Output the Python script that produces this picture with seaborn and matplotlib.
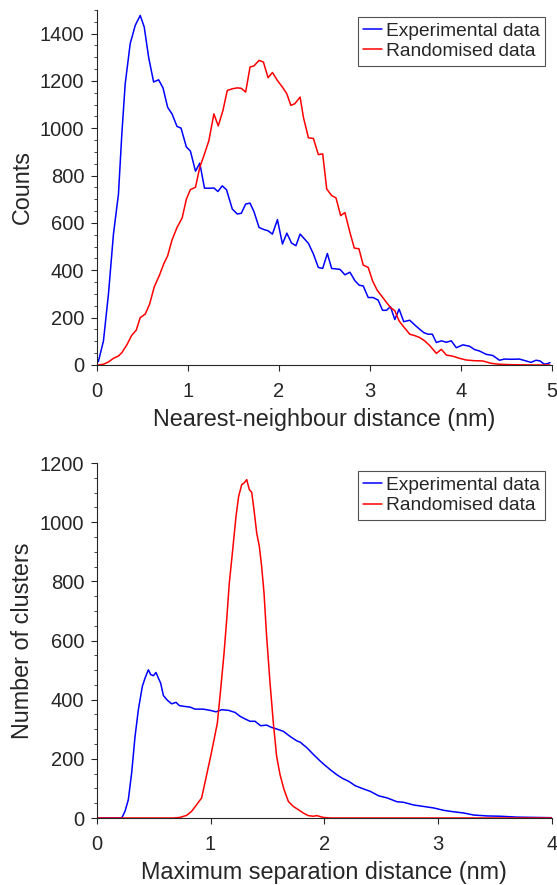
import numpy as np
import pandas as pd
import seaborn as sns
import matplotlib.pyplot as plt
from matplotlib.ticker import AutoMinorLocator, MultipleLocator

### values

# top panel: nearest-neighbour distance histogram
nn_exp_x = [0.018, 0.074, 0.129, 0.184, 0.239, 0.276, 0.313, 0.368, 0.423, 0.478,
            0.522, 0.570, 0.625, 0.680, 0.728, 0.779, 0.827, 0.882, 0.926, 0.985,
            1.029, 1.085, 1.132, 1.184, 1.25, 1.287, 1.331, 1.379, 1.426, 1.489,
            1.544, 1.588, 1.636, 1.684, 1.728, 1.783, 1.838, 1.882, 1.930, 1.985,
            2.040, 2.088, 2.140, 2.188, 2.234, 2.325, 2.38, 2.434, 2.482, 2.533,
            2.58, 2.672, 2.726, 2.781, 2.836, 2.883, 2.927, 2.982, 3.036, 3.091,
            3.139, 3.182, 3.226, 3.274, 3.321, 3.372, 3.438, 3.493, 3.547, 3.591,
            3.639, 3.686, 3.73, 3.785, 3.84, 3.894, 3.949, 4.022, 4.095, 4.15,
            4.204, 4.277, 4.35, 4.423, 4.478, 4.551, 4.642, 4.715, 4.77, 4.825,
            4.869, 4.916, 4.953, 4.978]
nn_exp_y = [14, 101, 299, 553, 722, 976, 1188, 1358, 1435, 1477,
            1428, 1301, 1196, 1205, 1171, 1089, 1061, 1008, 1001, 921,
            904, 819, 853, 747, 747, 748, 733, 757, 740, 659,
            638, 641, 680, 684, 647, 581, 572, 567, 553, 614,
            511, 557, 515, 504, 553, 514, 469, 412, 408, 471,
            408, 404, 381, 392, 356, 337, 334, 285, 285, 274,
            231, 231, 246, 192, 236, 183, 189, 169, 151, 137,
            130, 130, 95, 102, 96, 102, 73, 85, 79, 65,
            59, 45, 40, 20, 25, 24, 25, 17, 11, 20,
            17, 3, 6, 10]

nn_rand_x = [0.018, 0.074, 0.129, 0.184, 0.239, 0.276, 0.331, 0.386, 0.434, 0.478,
             0.533, 0.581, 0.632, 0.691, 0.735, 0.779, 0.827, 0.882, 0.938, 0.985,
             1.029, 1.085, 1.132, 1.184, 1.232, 1.287, 1.335, 1.386, 1.434, 1.489,
             1.544, 1.588, 1.636, 1.684, 1.728, 1.783, 1.831, 1.882, 1.930, 1.985,
             2.040, 2.088, 2.132, 2.176, 2.234, 2.27, 2.325, 2.38, 2.434, 2.482,
             2.526, 2.58, 2.628, 2.679, 2.726, 2.781, 2.829, 2.88, 2.927, 2.982,
             3.029, 3.08, 3.128, 3.175, 3.226, 3.274, 3.321, 3.372, 3.438, 3.493,
             3.547, 3.602, 3.657, 3.73, 3.785, 3.84, 3.912, 3.985, 4.058, 4.15,
             4.24, 4.33, 4.42, 4.57, 4.8, 4.978]
nn_rand_y = [0, 3, 13, 28, 38, 52, 85, 126, 147, 200,
             215, 257, 330, 381, 426, 461, 528, 581, 621, 701,
             741, 751, 835, 892, 948, 1061, 1010, 1075, 1160, 1167,
             1171, 1169, 1153, 1259, 1264, 1287, 1280, 1214, 1236, 1202,
             1174, 1146, 1097, 1104, 1132, 1047, 960, 957, 889, 892,
             744, 716, 706, 631, 644, 560, 494, 491, 422, 412,
             356, 316, 292, 268, 243, 229, 186, 161, 130, 124,
             116, 102, 82, 49, 66, 42, 37, 28, 21, 18,
             17, 7, 3, 1, 0, 0]

# bottom panel: maximum separation distance per cluster
ms_exp_x = [0.015, 0.22, 0.249, 0.278, 0.307, 0.337, 0.366, 0.401, 0.425, 0.454,
            0.474, 0.498, 0.521, 0.542, 0.562, 0.586, 0.621, 0.659, 0.697, 0.726,
            0.776, 0.82, 0.864, 0.937, 0.996, 1.048, 1.098, 1.157, 1.215, 1.259,
            1.303, 1.347, 1.391, 1.44, 1.493, 1.537, 1.581, 1.64, 1.698, 1.757,
            1.789, 1.848, 1.906, 1.965, 2.0, 2.053, 2.111, 2.155, 2.214, 2.272,
            2.346, 2.404, 2.477, 2.551, 2.638, 2.697, 2.785, 2.873, 2.96, 3.048,
            3.136, 3.224, 3.312, 3.429, 3.546, 3.693, 3.839, 4.0]
ms_exp_y = [0, 0, 23, 62, 152, 276, 366, 445, 473, 501,
            485, 481, 492, 473, 456, 414, 398, 386, 391, 380,
            377, 375, 368, 368, 364, 359, 366, 364, 357, 344,
            335, 327, 327, 312, 314, 306, 301, 293, 276, 261,
            256, 237, 214, 192, 180, 163, 146, 135, 124, 109,
            98, 90, 75, 68, 55, 53, 44, 39, 34, 26,
            21, 17, 10, 7, 6, 3, 2, 1]

ms_rand_x = [0.015, 0.674, 0.732, 0.791, 0.835, 0.878, 0.922, 0.966, 1.001, 1.031,
             1.06, 1.089, 1.119, 1.142, 1.165, 1.195, 1.224, 1.247, 1.274, 1.294,
             1.318, 1.341, 1.362, 1.382, 1.406, 1.429, 1.449, 1.47, 1.493, 1.523,
             1.552, 1.581, 1.611, 1.646, 1.684, 1.728, 1.772, 1.815, 1.859, 1.903,
             1.933, 1.991, 2.05, 4.0]
ms_rand_y = [0, 0, 2, 9, 23, 45, 68, 146, 208, 265,
             321, 434, 558, 670, 794, 907, 1020, 1087, 1127, 1132,
             1144, 1110, 1101, 1042, 963, 918, 851, 761, 614, 456,
             321, 208, 146, 96, 56, 39, 28, 17, 8, 6,
             8, 2, 0, 0]

series_labels = ["Experimental data", "Randomised data"]
series_colors = ["#0000ff", "#ff0000"]

###~~~~~~~~~~~~~~~~~~~~~~~~~~~~~~~~~~~~~~~~~~~~~~~~~~~~~~~~~~~~~~~~~~~~~~~~~~~~
sns.set_style("ticks")
plt.rcParams['font.family'] = ['Liberation Sans', 'DejaVu Sans']
ink = "#262626"
plt.rcParams.update({
    'axes.edgecolor': ink, 'axes.labelcolor': ink, 'text.color': ink,
    'xtick.color': ink, 'ytick.color': ink,
    'xtick.direction': 'out', 'ytick.direction': 'out',
})

fig = plt.figure(figsize=(5.57, 8.85), dpi=100)
ax_top = fig.add_axes([0.1736, 0.5876, 0.8174, 0.4011])
ax_bot = fig.add_axes([0.1736, 0.0757, 0.8174, 0.4011])


def draw_panel(ax, xs, ys, xlim, ylim, xlabel, ylabel, leg_top):
    for x, y, lab, col in zip(xs, ys, series_labels, series_colors):
        df = pd.DataFrame({"x": x, "y": y})
        sns.lineplot(data=df, x="x", y="y", ax=ax, color=col, label=lab,
                     linewidth=1.1, estimator=None)
    ax.set_xlim(*xlim)
    ax.set_ylim(*ylim)
    ax.xaxis.set_major_locator(MultipleLocator(1))
    ax.yaxis.set_major_locator(MultipleLocator(200))
    ax.yaxis.set_minor_locator(AutoMinorLocator(4))
    ax.tick_params(axis='both', which='major', length=4, width=0.8, labelsize=14.5)
    ax.tick_params(axis='x', which='major', pad=8)
    ax.tick_params(axis='y', which='major', pad=5)
    ax.tick_params(axis='y', which='minor', length=2.5, width=0.6)
    for s in ['top', 'right']:
        ax.spines[s].set_visible(False)
    for s in ['left', 'bottom']:
        ax.spines[s].set_linewidth(0.8)
    ax.set_xlabel(xlabel, fontsize=16.8, labelpad=5)
    ax.set_ylabel(ylabel, fontsize=16.8)
    leg = ax.legend(loc='upper right', bbox_to_anchor=(0.985, leg_top),
                    borderaxespad=0, fontsize=13.8, fancybox=False,
                    frameon=True, handlelength=1.0, handletextpad=0.2,
                    borderpad=0.28, labelspacing=0.15)
    leg.get_frame().set_edgecolor(ink)
    leg.get_frame().set_linewidth(0.8)


draw_panel(ax_top, [nn_exp_x, nn_rand_x], [nn_exp_y, nn_rand_y],
           (0, 5), (0, 1500), "Nearest-neighbour distance (nm)", "Counts", 0.98)
draw_panel(ax_bot, [ms_exp_x, ms_rand_x], [ms_exp_y, ms_rand_y],
           (0, 4), (0, 1200), "Maximum separation distance (nm)",
           "Number of clusters", 0.977)

fig.savefig("out.png", dpi=100)
